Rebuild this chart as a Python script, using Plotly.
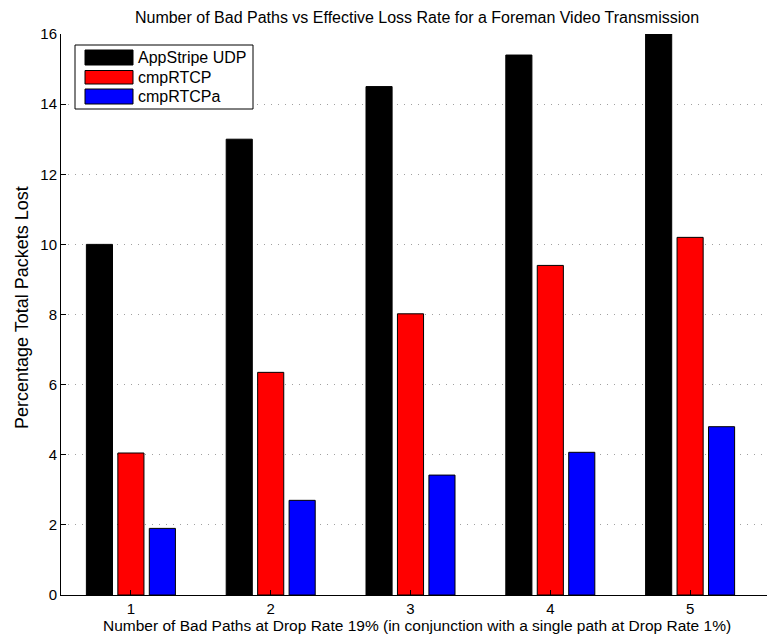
import plotly.graph_objects as go

# Bad-path counts and packet loss per scheme
categories = [1, 2, 3, 4, 5]
appstripe_udp = [10.0, 13.0, 14.5, 15.4, 16.0]
cmp_rtcp = [4.05, 6.35, 8.02, 9.4, 10.2]
cmp_rtcpa = [1.9, 2.7, 3.42, 4.07, 4.8]
y_ticks = [0, 2, 4, 6, 8, 10, 12, 14, 16]

series = [
    ("AppStripe UDP", appstripe_udp, "#000000"),
    ("cmpRTCP", cmp_rtcp, "#ff0000"),
    ("cmpRTCPa", cmp_rtcpa, "#0000ff"),
]

FONT = "Liberation Sans, Arial, Helvetica, sans-serif"
W, H = 767, 640
ML, MR, MT, MB = 61, 0, 34, 45

fig = go.Figure()
for name, vals, color in series:
    fig.add_trace(go.Bar(
        x=categories, y=vals, name=name,
        marker=dict(color=color, line=dict(color="#000000", width=1)),
        showlegend=False,
    ))

# Boxed legend with wide swatches (paper coordinates from pixel layout)
pw, ph = W - ML - MR, H - MT - MB


def px(x):
    return (x - ML) / pw


def py(y):
    return (H - MB - y) / ph


shapes = [dict(type="rect", xref="paper", yref="paper",
               x0=px(75), x1=px(253), y0=py(109), y1=py(45),
               line=dict(color="#000000", width=1), fillcolor="#ffffff", layer="above")]
annotations = []
rows = [(50, 65), (70.5, 84), (89, 104)]
for (name, _, color), (top, bot) in zip(series, rows):
    shapes.append(dict(type="rect", xref="paper", yref="paper",
                       x0=px(85), x1=px(133), y0=py(bot), y1=py(top),
                       line=dict(color="#000000", width=1), fillcolor=color, layer="above"))
    annotations.append(dict(xref="paper", yref="paper", x=px(136), y=py((top + bot) / 2),
                            text=name, showarrow=False, xanchor="left", yanchor="middle",
                            font=dict(family=FONT, size=16, color="#000000")))

# Axis titles placed as annotations
annotations.append(dict(xref="paper", yref="paper", x=px(417), y=py(625),
                        text="Number of Bad Paths at Drop Rate 19% (in conjunction with a single path at Drop Rate 1%)",
                        showarrow=False, xanchor="center", yanchor="middle",
                        font=dict(family=FONT, size=15.5, color="#000000")))
annotations.append(dict(xref="paper", yref="paper", x=px(22), y=py(308),
                        text="Percentage Total Packets Lost", textangle=-90,
                        showarrow=False, xanchor="center", yanchor="middle",
                        font=dict(family=FONT, size=18, color="#000000")))

fig.update_layout(
    width=W, height=H,
    margin=dict(l=ML, r=MR, t=MT, b=MB),
    paper_bgcolor="#ffffff", plot_bgcolor="#ffffff",
    barmode="group", bargap=0.325, bargroupgap=0.17,
    font=dict(family=FONT, size=14, color="#000000"),
    title=dict(text="Number of Bad Paths vs Effective Loss Rate for a Foreman Video Transmission",
               x=417 / W, xanchor="center", y=1 - 17 / H, yanchor="middle",
               font=dict(family=FONT, size=16, color="#000000")),
    shapes=shapes, annotations=annotations,
)
fig.update_xaxes(
    range=[0.5, 5.55], tickvals=categories, ticktext=[str(c) for c in categories],
    showline=True, linecolor="#000000", linewidth=1,
    ticks="inside", ticklen=5, tickcolor="#000000",
    showgrid=False, zeroline=False,
    tickfont=dict(size=15),
)
fig.update_yaxes(
    range=[0, 16], tickvals=y_ticks,
    showline=True, linecolor="#000000", linewidth=1,
    ticks="inside", ticklen=5, tickcolor="#000000",
    showgrid=True, gridcolor="#a0a0a0", griddash="1px,6px", gridwidth=1,
    zeroline=False,
    tickfont=dict(size=15),
)

fig.write_html("out.html")
